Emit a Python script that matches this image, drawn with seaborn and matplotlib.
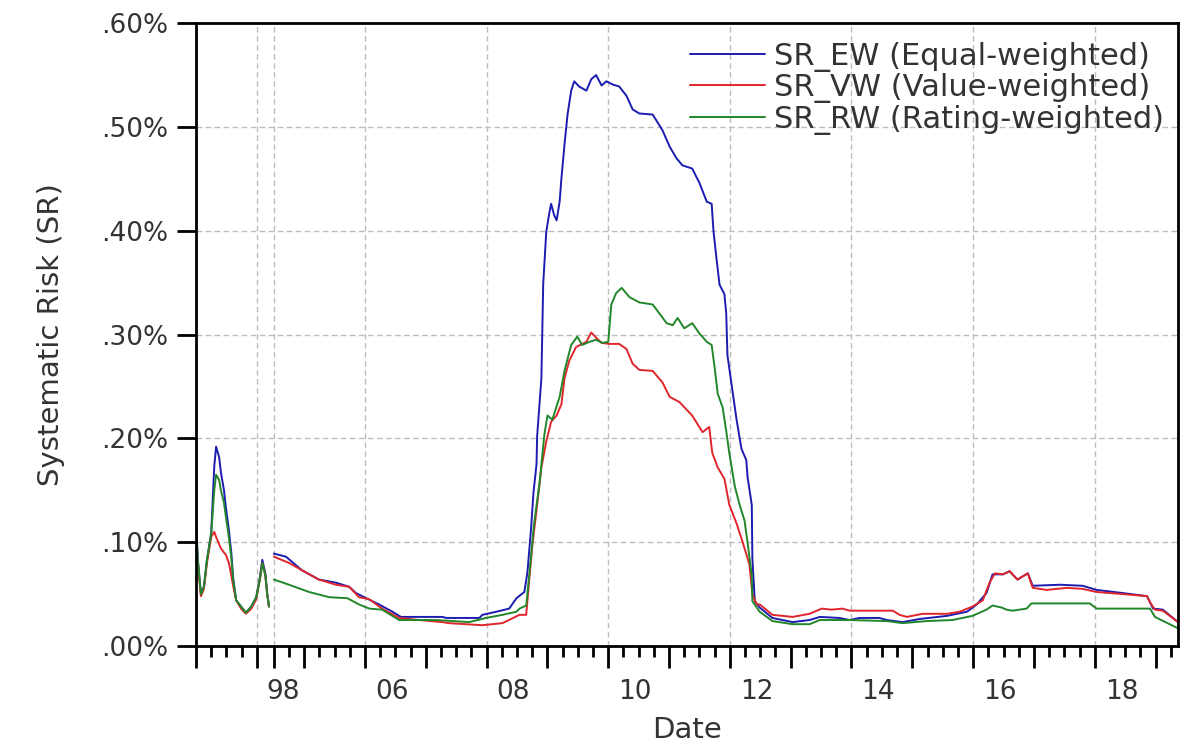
import numpy as np
import pandas as pd
import matplotlib
matplotlib.use("Agg")
import matplotlib.pyplot as plt
from matplotlib.ticker import FuncFormatter, FixedLocator
import seaborn as sns

# ---- data (decimal year, systematic risk in %) ----
seg1_dates = [1997.00, 1997.03, 1997.08, 1997.13, 1997.18, 1997.25, 1997.30, 1997.33,
              1997.38, 1997.41, 1997.46, 1997.49, 1997.54, 1997.58, 1997.61, 1997.66,
              1997.74, 1997.82, 1997.91, 1997.99, 1998.05, 1998.09, 1998.14, 1998.17, 1998.20]
ew_seg1 = [.118, .083, .051, .057, .083, .109, .173, .192, .182, .167, .150, .134, .112,
           .090, .066, .044, .038, .032, .038, .047, .066, .083, .070, .051, .038]
vw_seg1 = [.095, .080, .048, .055, .080, .105, .110, .105, .098, .094, .090, .088, .080,
           .068, .058, .044, .036, .031, .036, .045, .064, .080, .068, .050, .038]
rw_seg1 = [.118, .083, .050, .057, .083, .108, .150, .165, .160, .150, .138, .125, .105,
           .085, .064, .044, .038, .032, .038, .047, .064, .080, .068, .050, .038]

ew_dates = [2004.50, 2004.70, 2004.96, 2005.24, 2005.52, 2005.74, 2005.85, 2006.02, 2006.23,
            2006.45, 2006.59, 2007.27, 2007.34, 2007.88, 2007.93, 2008.16, 2008.37, 2008.49,
            2008.62, 2008.67, 2008.73, 2008.77, 2008.82, 2008.83, 2008.90, 2008.93, 2008.98,
            2009.03, 2009.06, 2009.11, 2009.15, 2009.20, 2009.23, 2009.28, 2009.33, 2009.39,
            2009.44, 2009.52, 2009.64, 2009.72, 2009.80, 2009.89, 2009.97, 2010.07, 2010.18,
            2010.30, 2010.40, 2010.51, 2010.73, 2010.89, 2011.01, 2011.12, 2011.22, 2011.38,
            2011.50, 2011.62, 2011.70, 2011.73, 2011.78, 2011.83, 2011.91, 2011.94, 2011.96,
            2012.03, 2012.11, 2012.19, 2012.27, 2012.29, 2012.36, 2012.37, 2012.41, 2012.49,
            2012.70, 2013.03, 2013.31, 2013.48, 2013.80, 2013.97, 2014.13, 2014.46, 2014.58,
            2014.84, 2015.12, 2015.57, 2015.90, 2016.06, 2016.22, 2016.32, 2016.49, 2016.60,
            2016.73, 2016.90, 2016.98, 2017.43, 2017.80, 2018.03, 2018.46, 2018.86, 2018.96,
            2019.12, 2019.37]
ew_vals = [.089, .086, .073, .064, .061, .057, .051, .046, .040,
           .033, .028, .028, .027, .027, .030, .033, .036, .046,
           .052, .071, .113, .148, .175, .202, .258, .349, .399,
           .417, .426, .415, .410, .428, .451, .483, .512, .535,
           .544, .539, .535, .546, .550, .540, .544, .541, .539,
           .530, .517, .513, .512, .497, .481, .470, .463, .460,
           .446, .428, .426, .400, .373, .348, .339, .320, .280,
           .251, .218, .190, .179, .163, .136, .084, .043, .037,
           .027, .023, .025, .028, .027, .025, .027, .027, .025,
           .023, .026, .029, .033, .040, .051, .069, .069, .072,
           .064, .070, .058, .059, .058, .054, .051, .048, .036,
           .035, .023]

vw_dates = [2004.50, 2004.75, 2004.96, 2005.24, 2005.52, 2005.74, 2005.90, 2006.07, 2006.28,
            2006.56, 2006.89, 2007.27, 2007.38, 2007.93, 2008.26, 2008.54, 2008.65, 2008.70,
            2008.75, 2008.83, 2008.90, 2008.98, 2009.06, 2009.15, 2009.23, 2009.28, 2009.36,
            2009.47, 2009.64, 2009.72, 2009.80, 2009.89, 2010.02, 2010.18, 2010.30, 2010.40,
            2010.51, 2010.73, 2010.89, 2011.01, 2011.17, 2011.38, 2011.55, 2011.66, 2011.71,
            2011.80, 2011.91, 2011.99, 2012.11, 2012.21, 2012.32, 2012.37, 2012.44, 2012.49,
            2012.70, 2013.03, 2013.31, 2013.51, 2013.67, 2013.85, 2013.97, 2014.68, 2014.79,
            2014.91, 2015.17, 2015.57, 2015.78, 2015.99, 2016.16, 2016.27, 2016.36, 2016.49,
            2016.60, 2016.73, 2016.90, 2016.98, 2017.21, 2017.54, 2017.80, 2018.03, 2018.46,
            2018.86, 2018.91, 2018.99, 2019.12, 2019.37]
vw_vals = [.086, .080, .073, .064, .059, .057, .047, .045, .036,
           .027, .025, .023, .022, .020, .022, .030, .030, .064,
           .096, .136, .172, .197, .216, .222, .233, .258, .275,
           .288, .293, .302, .297, .292, .291, .291, .286, .272,
           .266, .265, .254, .240, .235, .222, .206, .211, .186,
           .172, .161, .136, .118, .100, .079, .050, .040, .040,
           .030, .028, .031, .036, .035, .036, .034, .034, .030,
           .028, .031, .031, .033, .038, .044, .061, .070, .069,
           .072, .064, .070, .056, .054, .056, .055, .052, .050,
           .048, .042, .035, .034, .023]

rw_dates = [2004.50, 2004.75, 2005.08, 2005.41, 2005.71, 2005.90, 2006.07, 2006.28, 2006.56,
            2007.17, 2007.71, 2007.99, 2008.26, 2008.49, 2008.54, 2008.65, 2008.70, 2008.78,
            2008.87, 2008.95, 2009.00, 2009.08, 2009.20, 2009.28, 2009.39, 2009.49, 2009.57,
            2009.69, 2009.80, 2009.90, 2010.00, 2010.05, 2010.13, 2010.22, 2010.35, 2010.51,
            2010.73, 2010.96, 2011.06, 2011.14, 2011.25, 2011.38, 2011.50, 2011.62, 2011.70,
            2011.75, 2011.80, 2011.88, 2011.94, 2011.99, 2012.08, 2012.16, 2012.24, 2012.29,
            2012.36, 2012.37, 2012.49, 2012.70, 2013.03, 2013.31, 2013.48, 2013.97, 2014.58,
            2014.84, 2015.24, 2015.66, 2015.99, 2016.22, 2016.32, 2016.47, 2016.55, 2016.65,
            2016.88, 2016.96, 2017.92, 2018.03, 2018.91, 2018.99, 2019.37]
rw_vals = [.064, .059, .052, .047, .046, .040, .036, .035, .025,
           .025, .023, .027, .030, .033, .036, .039, .068, .118,
           .157, .204, .222, .218, .240, .265, .290, .298, .290,
           .293, .295, .292, .293, .329, .340, .345, .336, .331,
           .329, .311, .309, .316, .306, .311, .301, .293, .290,
           .268, .243, .230, .207, .186, .154, .136, .121, .100,
           .068, .043, .033, .024, .021, .021, .025, .025, .024,
           .022, .024, .025, .029, .035, .039, .037, .035, .034,
           .036, .041, .041, .036, .036, .028, .017]

series_names = ["SR_EW (Equal-weighted)", "SR_VW (Value-weighted)", "SR_RW (Rating-weighted)"]
colors = ["#1c1cb0", "#e0262c", "#21872a"]
label_years = [1998, 2006, 2008, 2010, 2012, 2014, 2016, 2018]
label_text = ["98", "06", "08", "10", "12", "14", "16", "18"]
y_ticks = [0.0, 0.1, 0.2, 0.3, 0.4, 0.5, 0.6]

# the sample has a hole between early 1998 and mid 2004; the axis skips it
GAP = 6.22
SECOND_START = 2004.5
END_YEAR = 2019.37


def to_pos(years):
    years = np.asarray(years, dtype=float)
    return np.where(years < 2000, years - 1997, years - 1997 - GAP)


frames = []
pieces = [(series_names[0], seg1_dates, ew_seg1, ew_dates, ew_vals),
          (series_names[1], seg1_dates, vw_seg1, vw_dates, vw_vals),
          (series_names[2], seg1_dates, rw_seg1, rw_dates, rw_vals)]
for name, d1, v1, d2, v2 in pieces:
    frames.append(pd.DataFrame({"date": d1, "sr": v1, "series": name, "segment": 0}))
    frames.append(pd.DataFrame({"date": d2, "sr": v2, "series": name, "segment": 1}))
df = pd.concat(frames, ignore_index=True)
df["pos"] = to_pos(df["date"])

sns.set_style("ticks")
plt.rcParams["font.family"] = ["DejaVu Sans"]
plt.rcParams["text.color"] = "#333333"
plt.rcParams["axes.labelcolor"] = "#333333"

fig = plt.figure(figsize=(11.88, 7.48), dpi=100)
ax = fig.add_axes([0.165, 0.1364, 0.8266, 0.8326])

# grid first so the lines sit on top
grid_kw = dict(color="#bdbdbd", lw=1.0, ls=(0, (4, 2.5)), zorder=0)
for v in y_ticks[1:-1]:
    ax.axhline(v, **grid_kw)
grid_years = [1998, SECOND_START] + list(range(2006, 2019, 2))
for gx in to_pos(grid_years):
    ax.axvline(gx, **grid_kw)

sns.lineplot(data=df, x="pos", y="sr", hue="series", units="segment",
             estimator=None, sort=False, palette=dict(zip(series_names, colors)),
             hue_order=series_names, lw=1.4, ax=ax)

ax.set_xlim(0, float(to_pos(END_YEAR)))
ax.set_ylim(0, 0.6)

# y axis
ax.set_yticks(y_ticks)
ax.yaxis.set_major_formatter(FuncFormatter(lambda v, _: f"{v:.2f}%".lstrip("0")))
ax.tick_params(axis="y", length=14, width=2, pad=6, labelsize=19, colors="black",
               labelcolor="#333333")
ax.set_ylabel("Systematic Risk (SR)", fontsize=21, labelpad=26)

# x axis: long ticks at year starts, short ticks each quarter
major_years = [1997, 1998, SECOND_START] + list(range(2005, 2020))
minor_years = [1997.25, 1997.5, 1997.75, 2004.75]
for yr in range(2005, 2020):
    minor_years += [yr + 0.25, yr + 0.5, yr + 0.75]
minor_years = [m for m in minor_years if m < END_YEAR]
ax.xaxis.set_major_locator(FixedLocator(to_pos(major_years)))
ax.xaxis.set_minor_locator(FixedLocator(to_pos(minor_years)))
ax.tick_params(axis="x", which="major", length=16, width=2, labelbottom=False, colors="black")
ax.tick_params(axis="x", which="minor", length=8, width=2, colors="black")
ax.set_xlabel("")

sec = ax.secondary_xaxis("bottom")
sec.set_xticks(to_pos(label_years) + 0.44, label_text)
sec.tick_params(length=0, pad=24, labelsize=19, labelcolor="#333333")
sec.spines["bottom"].set_visible(False)
sec.set_xlabel("Date", fontsize=21, labelpad=8)

for s in ax.spines.values():
    s.set_color("black")
    s.set_linewidth(2)

leg = ax.legend(loc="upper right", bbox_to_anchor=(0.998, 0.99), frameon=False,
                fontsize=22, handlelength=2.45, handletextpad=0.3, labelspacing=0.05,
                borderaxespad=0)
for line in leg.get_lines():
    line.set_linewidth(1.4)

fig.savefig("out.png", dpi=100)
